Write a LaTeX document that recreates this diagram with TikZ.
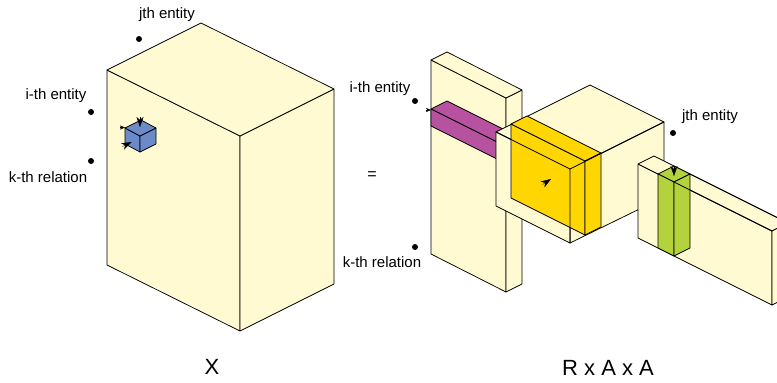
\documentclass[tikz,border=0pt]{standalone}
\usepackage{fontspec}
\setmainfont{Liberation Sans}
\usetikzlibrary{arrows.meta}
\definecolor{pale}{RGB}{255,250,210}
\definecolor{cubeblue}{RGB}{106,138,200}
\definecolor{magentabar}{RGB}{182,82,160}
\definecolor{goldslab}{RGB}{255,214,0}
\definecolor{limebar}{RGB}{180,210,60}
\tikzset{
  face/.style={draw=black, line width=0.75pt, line join=round, fill=pale},
  edgeline/.style={draw=black, line width=0.75pt, line cap=round},
  dotmark/.style={circle, fill=black, inner sep=0pt, minimum size=6pt},
  lbl/.style={font=\fontsize{15}{18}\selectfont, inner sep=0pt},
  biglbl/.style={font=\fontsize{22}{25}\selectfont, inner sep=0pt},
  tipmark/.style={-{Stealth[length=10pt,width=7pt,inset=3pt]}, line width=0.3pt},
  smalltip/.style={-{Stealth[length=5pt,width=4pt,inset=1.5pt]}, line width=0.3pt},
}
\begin{document}
\begin{tikzpicture}[x=1pt,y=-1pt]
\useasboundingbox (0,0) rectangle (777,383);
\clip (0,0) rectangle (777,383);

% ---------- big tensor X ----------
\filldraw[face] (107,70) -- (240,136) -- (240,331) -- (107,265) -- cycle;
\filldraw[face] (240,136) -- (334,89) -- (334,284) -- (240,331) -- cycle;
\filldraw[face] (107,70) -- (201,23) -- (334,89) -- (240,136) -- cycle;

% small blue cube
\filldraw[face, fill=cubeblue] (125,128) -- (140,136) -- (140,152) -- (125,144) -- cycle;
\filldraw[face, fill=cubeblue] (140,136) -- (156,128) -- (156,144) -- (140,152) -- cycle;
\filldraw[face, fill=cubeblue] (125,128) -- (141,120) -- (156,128) -- (140,136) -- cycle;
\coordinate (bt0) at (140,117); \coordinate (bt1) at (140,127);
\coordinate (bl0) at (122.5,146.5); \coordinate (bl1) at (131.5,142);
\coordinate (bk0) at (120,127.5); \coordinate (bk1) at (125,127.5);
\draw[tipmark] (bt0) -- (bt1);
\draw[tipmark] (bl0) -- (bl1);
\draw[smalltip] (bk0) -- (bk1);

% labels left
\node[lbl] (jl) at (167,15) {jth entity};
\node[dotmark] (jd) at (139,39) {};
\node[lbl] (il) at (56,96) {i-th entity};
\node[dotmark] (id) at (91,112) {};
\node[dotmark] (kd) at (91,161) {};
\node[lbl] (kl) at (48,177) {k-th relation};
\node[biglbl] (xl) at (212,367) {X};
\node[font=\fontsize{16}{18}\selectfont, inner sep=0pt] (eq) at (372,176) {=};

% ---------- tall slab R ----------
\filldraw[face] (431,60) -- (506,98) -- (506,292) -- (431,254) -- cycle;
\filldraw[face] (506,98) -- (522,90) -- (522,284) -- (506,292) -- cycle;
\filldraw[face] (431,60) -- (447,52) -- (522,90) -- (506,98) -- cycle;
% magenta row
\filldraw[face, fill=magentabar] (431,109) -- (447,101) -- (522,138.5) -- (506,146.5) -- cycle;
\filldraw[face, fill=magentabar] (431,109) -- (506,146.5) -- (506,163.5) -- (431,126) -- cycle;
\coordinate (mk0) at (426,110); \coordinate (mk1) at (431,110);
\draw[smalltip] (mk0) -- (mk1);

% ---------- middle cube A ----------
\filldraw[face] (496,132) -- (590,85) -- (664,122) -- (570,169) -- cycle;
\filldraw[face] (570,169) -- (664,122) -- (664,197) -- (570,243) -- cycle;
\filldraw[face] (496,132) -- (570,169) -- (570,243) -- (496,206) -- cycle;
% yellow slice
\filldraw[face, fill=goldslab] (511,124) -- (585,161) -- (585,235) -- (511,198) -- cycle;
\filldraw[face, fill=goldslab] (511,124) -- (527,116) -- (601,153) -- (585,161) -- cycle;
\filldraw[face, fill=goldslab] (585,161) -- (601,153) -- (601,227) -- (585,235) -- cycle;
% front edges of the cube drawn over the slice
\draw[edgeline] (496,132) -- (570,169) -- (570,243);
\draw[edgeline] (570,169) -- (664,122);
\coordinate (ya0) at (542.5,184.5); \coordinate (ya1) at (551,179);
\draw[tipmark] (ya0) -- (ya1);

% labels middle
\node[lbl] (il2) at (380,89) {i-th entity};
\node[dotmark] (id2) at (415,101) {};
\node[dotmark] (kd2) at (415,247) {};
\node[lbl] (kl2) at (382,262) {k-th relation};

% ---------- long slab A^T ----------
\filldraw[face] (638,164) -- (772,231) -- (772,305) -- (638,238) -- cycle;
\filldraw[face] (638,164) -- (654,156) -- (788,223) -- (772,231) -- cycle;
\filldraw[face] (772,231) -- (788,223) -- (788,297) -- (772,305) -- cycle;
% green column
\filldraw[face, fill=limebar] (658,174) -- (674,166) -- (690,174) -- (674,182) -- cycle;
\filldraw[face, fill=limebar] (658,174) -- (674,182) -- (674,256) -- (658,248) -- cycle;
\filldraw[face, fill=limebar] (674,182) -- (690,174) -- (690,248) -- (674,256) -- cycle;
\draw[edgeline] (674,182) -- (772,231);
\draw[edgeline] (690,174) -- (788,223);
\coordinate (ga0) at (674,166); \coordinate (ga1) at (674,176);
\draw[tipmark] (ga0) -- (ga1);

\node[lbl] (jl2) at (710,117) {jth entity};
\node[dotmark] (jd2) at (673,133) {};
\node[biglbl] (rl) at (608,368) {R x A x A};
\end{tikzpicture}
\end{document}
